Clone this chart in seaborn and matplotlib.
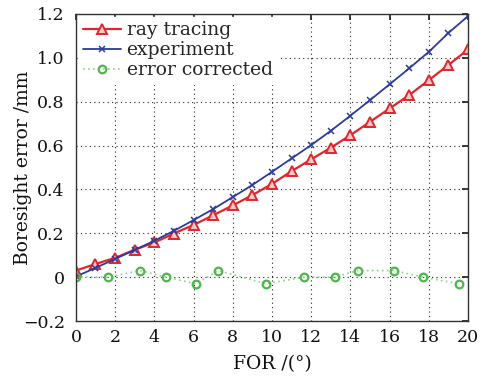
import numpy as np
import pandas as pd
import matplotlib
matplotlib.use("Agg")
import matplotlib.pyplot as plt
import seaborn as sns

fov = list(range(0, 21))
ray_tracing = [0.03, 0.06, 0.088, 0.125, 0.158, 0.199, 0.238, 0.282, 0.327, 0.374, 0.425,
               0.483, 0.537, 0.590, 0.647, 0.708, 0.769, 0.830, 0.898, 0.967, 1.038]
experiment = [0.003, 0.042, 0.083, 0.124, 0.166, 0.211, 0.260, 0.310, 0.365, 0.420, 0.480,
              0.541, 0.602, 0.667, 0.736, 0.807, 0.879, 0.952, 1.027, 1.113, 1.190]
err_x = [0.0, 1.65, 3.27, 4.6, 6.12, 7.26, 9.7, 11.63, 13.2, 14.37, 16.22, 17.72, 19.54]
err_y = [0.0, 0.0, 0.03, 0.0, -0.03, 0.03, -0.03, 0.0, 0.0, 0.03, 0.03, 0.0, -0.03]

xticks = list(range(0, 21, 2))
yticks = [-0.2, 0, 0.2, 0.4, 0.6, 0.8, 1.0, 1.2]
ytick_labels = ["\u22120.2", "0", "0.2", "0.4", "0.6", "0.8", "1.0", "1.2"]

sns.set_theme(style="white")
plt.rcParams['font.family'] = ['DejaVu Serif']
plt.rcParams['mathtext.fontset'] = 'dejavuserif'

df_rt = pd.DataFrame({"x": fov, "y": ray_tracing})
df_ex = pd.DataFrame({"x": fov, "y": experiment})
df_er = pd.DataFrame({"x": err_x, "y": err_y})

fig = plt.figure(figsize=(4.96, 3.77), dpi=100)
ax = fig.add_axes([0.153, 0.1485, 0.7905, 0.8145])

sns.lineplot(data=df_rt, x="x", y="y", ax=ax, color="#e0262b", lw=1.6,
             marker="^", markersize=7.5, markerfacecolor="#f4c8c8",
             markeredgecolor="#e0262b", markeredgewidth=1.4, label="ray tracing")
sns.lineplot(data=df_ex, x="x", y="y", ax=ax, color="#2b3c9c", lw=1.3,
             marker="x", markersize=4, markeredgewidth=1.1,
             markeredgecolor="#2b3c9c", label="experiment")
sns.lineplot(data=df_er, x="x", y="y", ax=ax, color="#8fd08a", lw=1.2,
             linestyle=(0, (1, 2)), marker="o", markersize=5.5,
             markerfacecolor="none", markeredgecolor="#4cb848",
             markeredgewidth=1.6, label="error corrected")

ax.set_xlim(0, 20)
ax.set_ylim(-0.2, 1.2)
ax.set_xticks(xticks)
ax.set_yticks(yticks)
ax.set_yticklabels(ytick_labels)
ax.tick_params(direction="in", length=4, labelsize=12.5, top=True, right=True,
               colors="#222222", labelcolor="#111111")
ax.tick_params(axis="y", pad=8)
ax.tick_params(axis="x", pad=6)
ax.grid(True, linestyle=(0, (1, 3)), color="#222222", lw=0.8)
for s in ax.spines.values():
    s.set_color("#333333")
    s.set_linewidth(1.0)
ax.set_xlabel("FOR /(°)", fontsize=13.5, color="#111111")
ax.set_ylabel("Boresight error /mm", fontsize=13.5, color="#111111")
ax.xaxis.set_label_coords(0.5, -0.112)
ax.yaxis.set_label_coords(-0.112, 0.5)

leg = ax.legend(loc="upper left", fontsize=13.5, frameon=True, fancybox=False,
                handlelength=2.0, handletextpad=0.3, borderpad=0.25,
                labelspacing=0.1, borderaxespad=0.15)
leg.get_frame().set_edgecolor("white")
leg.get_frame().set_facecolor("white")
leg.get_frame().set_alpha(1.0)

fig.savefig("out.png", dpi=100)
